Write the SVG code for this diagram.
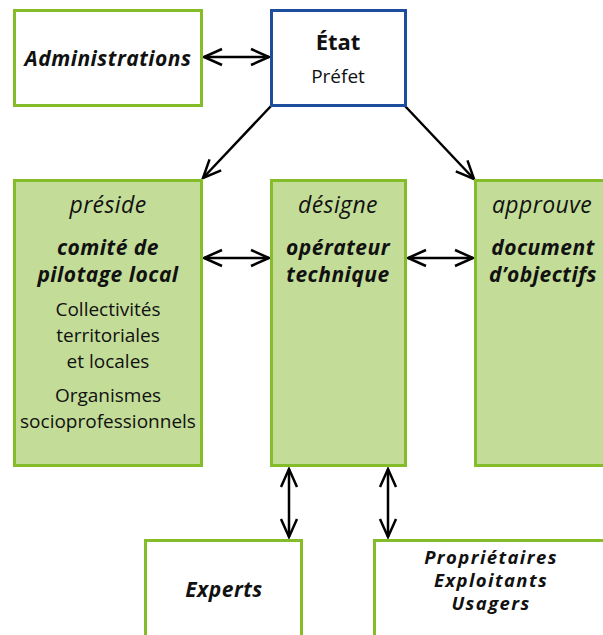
<svg xmlns="http://www.w3.org/2000/svg" width="603" height="635" viewBox="0 0 603 635">
<style>
.wbox{fill:#fff;stroke:#84bc2a;stroke-width:3}
.gbox{fill:#c3dc98;stroke:#84bc2a;stroke-width:3}
.bbox{fill:#fff;stroke:#1e4d9e;stroke-width:3}
text{font-family:"Open Sans","Liberation Sans",sans-serif;fill:#111;text-anchor:middle}
.b{font-weight:700;font-size:22px}
.bi{font-weight:700;font-style:italic;font-size:21px;letter-spacing:0.5px}
.bs{font-weight:700;font-style:italic;font-size:18.5px;letter-spacing:1.4px}
.r{font-size:19px}
.i{font-style:italic;font-size:23px;letter-spacing:0.4px}
.con{stroke:#000;stroke-width:2.5;fill:none;marker-start:url(#ah);marker-end:url(#ah)}
.one{stroke:#000;stroke-width:2.5;fill:none;marker-end:url(#ah)}
</style>
<defs>
<marker id="ah" markerUnits="userSpaceOnUse" orient="auto-start-reverse" refX="0" refY="0" markerWidth="30" markerHeight="30" viewBox="-25 -15 30 30" style="overflow:visible">
<path d="M-18,-8 L0,0 L-18,8" fill="none" stroke="#000" stroke-width="2.5"/>
</marker>
</defs>
<g id="connectors">
<line class="con" x1="204" y1="57" x2="269" y2="57"/>
<line class="one" x1="271" y1="106" x2="203" y2="178"/>
<line class="one" x1="405" y1="106" x2="474" y2="179"/>
<line class="con" x1="204" y1="258" x2="269" y2="258"/>
<line class="con" x1="408" y1="258" x2="473" y2="258"/>
<line class="con" x1="289" y1="469" x2="289" y2="537"/>
<line class="con" x1="388" y1="469" x2="388" y2="537"/>
</g>
<g id="administrations">
<rect class="wbox" x="14.5" y="10.5" width="187" height="95"/>
<text class="bi" x="108" y="66">Administrations</text>
</g>
<g id="etat">
<rect class="bbox" x="271.5" y="10.5" width="134" height="95"/>
<text class="b" x="338" y="50">État</text>
<text class="r" x="338" y="83">Préfet</text>
</g>
<g id="comite">
<rect class="gbox" x="14.5" y="180.5" width="187" height="285"/>
<text class="i" x="108" y="213">préside</text>
<text class="bi" x="108" y="255">comité de</text>
<text class="bi" x="108" y="282">pilotage local</text>
<text class="r" x="108" y="316">Collectivités</text>
<text class="r" x="108" y="342">territoriales</text>
<text class="r" x="108" y="368">et locales</text>
<text class="r" x="108" y="402">Organismes</text>
<text class="r" x="108" y="428">socioprofessionnels</text>
</g>
<g id="operateur">
<rect class="gbox" x="271.5" y="180.5" width="134" height="285"/>
<text class="i" x="338" y="213">désigne</text>
<text class="bi" x="338" y="255">opérateur</text>
<text class="bi" x="338" y="282">technique</text>
</g>
<g id="document">
<rect class="gbox" x="475.5" y="180.5" width="134" height="285"/>
<text class="i" x="542" y="213">approuve</text>
<text class="bi" x="543" y="255">document</text>
<text class="bi" x="543" y="282">d’objectifs</text>
</g>
<g id="experts">
<rect class="wbox" x="145.5" y="540.5" width="156" height="110"/>
<text class="bi" x="224" y="597">Experts</text>
</g>
<g id="usagers">
<rect class="wbox" x="374.5" y="540.5" width="236" height="110"/>
<text class="bs" x="491" y="564">Propriétaires</text>
<text class="bs" x="491" y="587">Exploitants</text>
<text class="bs" x="491" y="610">Usagers</text>
</g>
</svg>
